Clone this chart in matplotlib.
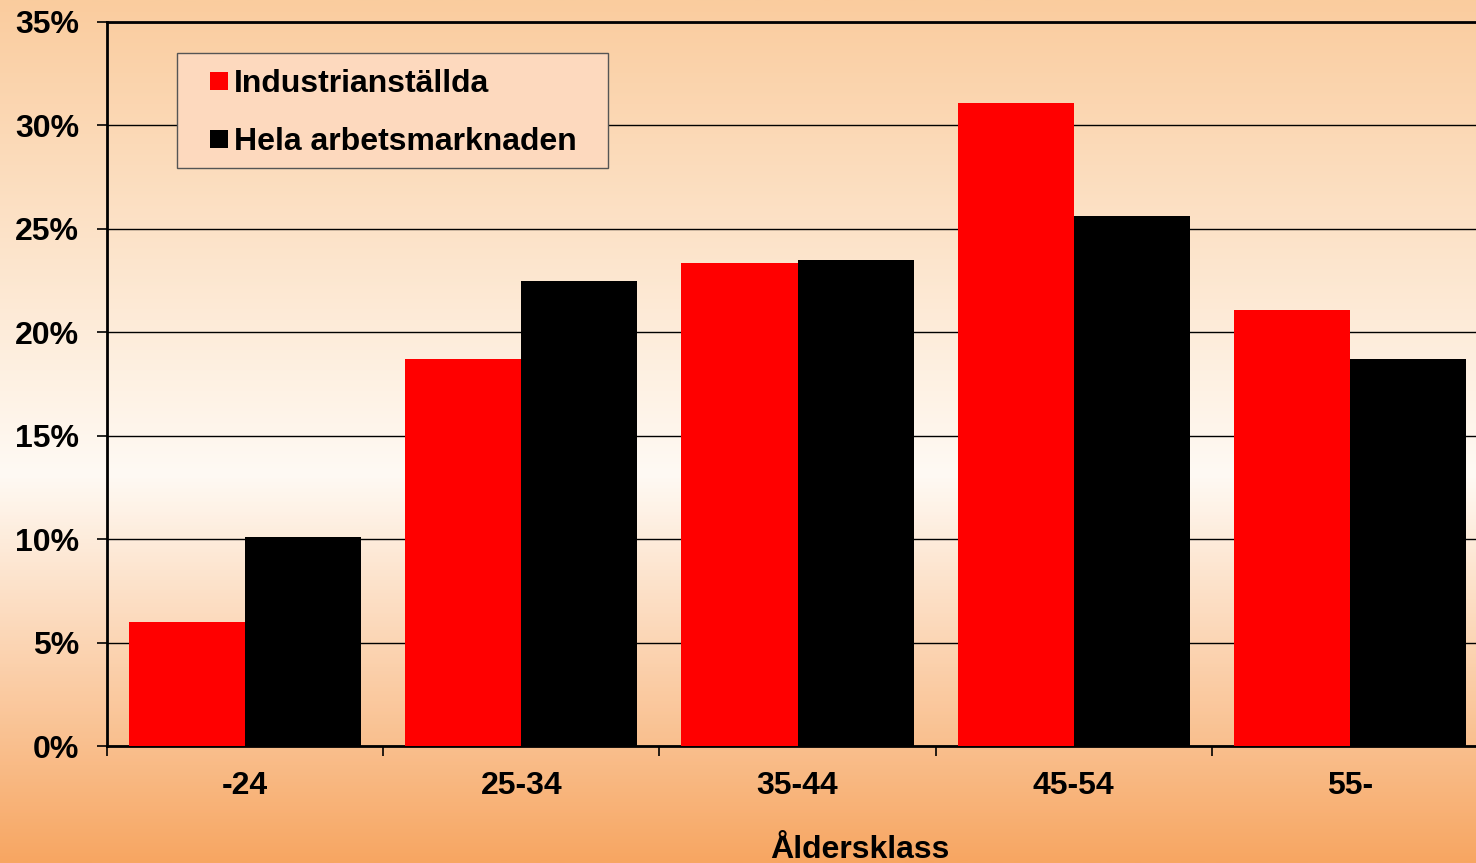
import numpy as np
import matplotlib
matplotlib.use("Agg")
import matplotlib.pyplot as plt
from matplotlib.colors import LinearSegmentedColormap
from matplotlib.patches import Rectangle

categories = ["-24", "25-34", "35-44", "45-54", "55-"]
industri = [6.0, 18.7, 23.35, 31.1, 21.1]
hela = [10.1, 22.5, 23.5, 25.6, 18.7]
series_names = ["Industrianställda", "Hela arbetsmarknaden"]
yticks = [0, 5, 10, 15, 20, 25, 30, 35]
xlabel = "Åldersklass"

plt.rcParams['font.family'] = ['Liberation Sans', 'DejaVu Sans']
plt.rcParams['font.weight'] = 'bold'

W, H = 1476, 863
FS = 23
fig = plt.figure(figsize=(W / 100, H / 100), dpi=100)

# background gradient
bg = fig.add_axes([0, 0, 1, 1], zorder=-10)
cmap = LinearSegmentedColormap.from_list("bg", [
    (0.0, (250/255, 204/255, 158/255)),
    (0.55, (255/255, 250/255, 244/255)),
    (1.0, (247/255, 166/255, 98/255)),
])
grad = np.linspace(0, 1, 512).reshape(-1, 1)
bg.imshow(grad, aspect='auto', cmap=cmap, extent=[0, 1, 0, 1], origin='upper')
bg.set_axis_off()

left, right, bottom, top = 107, 1488, 746, 22
ax = fig.add_axes([left / W, 1 - bottom / H, (right - left) / W, (bottom - top) / H])
ax.set_facecolor('none')

x = np.arange(len(categories))
bw = 0.42
ax.bar(x - bw / 2, industri, width=bw, color='#FF0000', zorder=3, linewidth=0)
ax.bar(x + bw / 2, hela, width=bw, color='#000000', zorder=3, linewidth=0)

ax.set_xlim(-0.5, len(categories) - 0.5)
ax.set_ylim(0, 35)
ax.set_yticks(yticks)
ax.set_yticklabels([f"{v}%" for v in yticks], fontsize=FS, fontweight='bold')
ax.yaxis.grid(True, color='black', linewidth=1.0, zorder=1)
ax.set_axisbelow(True)

ax.set_xticks(np.arange(-0.5, len(categories), 1.0))
ax.set_xticklabels([])
ax.set_xticks(x, minor=True)
ax.set_xticklabels(categories, minor=True, fontsize=FS, fontweight='bold')
ax.tick_params(axis='x', which='major', direction='out', length=7, width=1.2, color='black')
ax.tick_params(axis='x', which='minor', length=0, pad=18)
ax.tick_params(axis='y', direction='out', length=7, width=1.2, pad=13)

for s in ['left', 'bottom', 'top']:
    ax.spines[s].set_color('black')
    ax.spines[s].set_linewidth(2)
ax.spines['right'].set_visible(False)

fig.text(860 / W, 1 - 850 / H, xlabel, fontsize=FS, fontweight='bold',
         ha='center', va='center')

# legend (manual box)
lx0, ly0, lx1, ly1 = 177, 53, 608, 168
fig.patches.append(Rectangle((lx0 / W, 1 - ly1 / H), (lx1 - lx0) / W, (ly1 - ly0) / H,
                             transform=fig.transFigure, facecolor=(253/255, 217/255, 190/255),
                             edgecolor='#555555', linewidth=1, zorder=5))
for name, col, yc in zip(series_names, ['#FF0000', '#000000'], [81, 139]):
    fig.patches.append(Rectangle((210 / W, 1 - (yc + 9) / H), 18 / W, 18 / H,
                                 transform=fig.transFigure, facecolor=col,
                                 edgecolor='none', zorder=6))
    fig.text(234 / W, 1 - (yc + 3) / H, name, fontsize=FS, fontweight='bold',
             ha='left', va='center', zorder=6)

fig.savefig("out.png", dpi=100)
